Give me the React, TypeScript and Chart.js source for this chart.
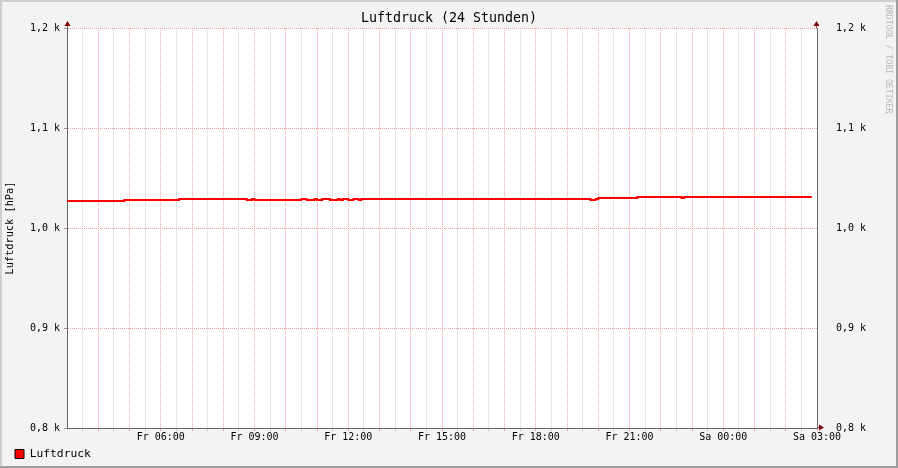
import { useEffect, useRef } from "react";
import { Chart, registerables } from "chart.js";

Chart.register(...registerables);

// minutes after Fr 03:00 where the reading changes, and the reading from there on
const stepMinutes = [
  0, 110, 215, 345, 355, 360, 450, 460, 475, 480, 490, 505, 520, 525, 530,
  540, 550, 560, 565, 1005, 1015, 1020, 1095, 1180, 1185, 1210, 1430,
];
const pressure = [
  1026, 1027, 1028, 1029, 1028, 1029, 1028, 1029, 1028, 1029, 1028, 1029,
  1028, 1029, 1028, 1029, 1028, 1029, 1028, 1029, 1028, 1029, 1030, 1031,
  1030, 1031, 1031,
];

const xTickMinutes = [180, 360, 540, 720, 900, 1080, 1260, 1440];
const xTickLabels = [
  "Fr 06:00",
  "Fr 09:00",
  "Fr 12:00",
  "Fr 15:00",
  "Fr 18:00",
  "Fr 21:00",
  "Sa 00:00",
  "Sa 03:00",
];
const yTickValues = [800, 900, 1000, 1100, 1200];
const yTickLabels = ["0,8 k", "0,9 k", "1,0 k", "1,1 k", "1,2 k"];

const watermark = "RRDTOOL / TOBI OETIKER";
const mono = "'DejaVu Sans Mono', monospace";
const gridRed = "#f2a0a0";
const gridGray = "#cccccc";
const axisColor = "#666666";
const arrowColor = "#7f0000";

const yLabel = (v: any) => {
  const i = yTickValues.indexOf(Number(v));
  return i >= 0 ? yTickLabels[i] : "";
};

const rrdFrame = {
  id: "rrdFrame",
  beforeDraw(chart: any) {
    const { ctx, width, height, chartArea: a } = chart;
    ctx.save();
    ctx.fillStyle = "#f3f3f3";
    ctx.fillRect(0, 0, width, height);
    ctx.fillStyle = "#cfcfcf";
    ctx.fillRect(0, 0, width, 2);
    ctx.fillRect(0, 0, 2, height);
    ctx.fillStyle = "#9e9e9e";
    ctx.fillRect(0, height - 2, width, 2);
    ctx.fillRect(width - 2, 0, 2, height);
    ctx.fillStyle = "#ffffff";
    ctx.fillRect(a.left, a.top, a.right - a.left, a.bottom - a.top);
    ctx.restore();
  },
  afterDraw(chart: any) {
    const { ctx, chartArea: a } = chart;
    ctx.save();
    ctx.strokeStyle = axisColor;
    ctx.lineWidth = 1;
    ctx.beginPath();
    ctx.moveTo(a.left + 0.5, a.top - 4);
    ctx.lineTo(a.left + 0.5, a.top);
    ctx.moveTo(a.right - 0.5, a.top - 4);
    ctx.lineTo(a.right - 0.5, a.top);
    ctx.moveTo(a.right, a.bottom - 0.5);
    ctx.lineTo(a.right + 4, a.bottom - 0.5);
    ctx.stroke();
    ctx.fillStyle = arrowColor;
    const up = (x: number) => {
      ctx.beginPath();
      ctx.moveTo(x - 3, a.top - 2);
      ctx.lineTo(x + 3, a.top - 2);
      ctx.lineTo(x, a.top - 7);
      ctx.closePath();
      ctx.fill();
    };
    up(a.left + 0.5);
    up(a.right - 0.5);
    ctx.beginPath();
    ctx.moveTo(a.right + 2, a.bottom - 3.5);
    ctx.lineTo(a.right + 2, a.bottom + 2.5);
    ctx.lineTo(a.right + 7, a.bottom - 0.5);
    ctx.closePath();
    ctx.fill();

    ctx.translate(888, 5);
    ctx.rotate(Math.PI / 2);
    ctx.fillStyle = "#b8b8b8";
    ctx.font = "8.2px " + mono;
    ctx.textAlign = "left";
    ctx.textBaseline = "middle";
    ctx.fillText(watermark, 0, 0);
    ctx.restore();
  },
};

const PressureChart = () => {
  const chartRef: any = useRef(null);
  useEffect(() => {
    const ctx = chartRef.current.getContext("2d");
    const points = stepMinutes.map((m, i) => ({ x: m, y: pressure[i] }));

    const theChart = new Chart(ctx, {
      type: "line",
      data: {
        datasets: [
          {
            label: "Luftdruck",
            data: points,
            stepped: "after",
            borderColor: "#ff0000",
            backgroundColor: "#ff0000",
            borderWidth: 2,
            pointRadius: 0,
            fill: false,
          },
        ],
      },
      options: {
        responsive: true,
        maintainAspectRatio: false,
        animation: false,
        layout: { padding: { top: 0, left: 14, right: 14, bottom: -1.65 } },
        plugins: {
          title: {
            display: true,
            text: "Luftdruck (24 Stunden)",
            color: "#000",
            font: { family: mono, size: 13.3, weight: "normal" },
            padding: { top: 11, bottom: 1.1 },
          },
          legend: {
            position: "bottom",
            align: "start",
            labels: {
              color: "#000",
              boxWidth: 9,
              boxHeight: 9,
              padding: 1,
              font: { family: mono, size: 11.3 },
              generateLabels: (chart: any) =>
                Chart.defaults.plugins.legend.labels
                  .generateLabels(chart)
                  .map((l: any) => ({ ...l, strokeStyle: "#000", lineWidth: 1 })),
            },
          },
          tooltip: { enabled: false },
        },
        scales: {
          x: {
            type: "linear",
            min: 0,
            max: 1440,
            afterFit: (scale: any) => {
              scale.height = 19.35;
            },
            ticks: {
              stepSize: 30,
              autoSkip: false,
              maxTicksLimit: 100,
              maxRotation: 0,
              padding: 0,
              color: "#000",
              font: { family: mono, size: 10 },
              callback: (v: any) => {
                const i = xTickMinutes.indexOf(Number(v));
                return i >= 0 ? xTickLabels[i] : "";
              },
            },
            grid: {
              tickLength: 3,
              color: (c: any) => {
                const v = c.tick ? c.tick.value : 0;
                if (v === 0) return "rgba(0,0,0,0)";
                return v % 60 === 0 ? gridRed : gridGray;
              },
            },
            border: { color: axisColor, width: 1, dash: [1, 1] },
          },
          y: {
            position: "left",
            min: 800,
            max: 1200,
            afterFit: (scale: any) => {
              scale.width = 53;
            },
            ticks: {
              stepSize: 100,
              padding: 4,
              color: "#000",
              font: { family: mono, size: 10 },
              callback: yLabel,
            },
            grid: { color: gridRed, tickLength: 3, tickColor: "#999" },
            border: { color: axisColor, width: 1, dash: [1, 1] },
            title: {
              display: true,
              text: "Luftdruck [hPa]",
              color: "#000",
              font: { family: mono, size: 10.3 },
              padding: { top: -10.2, bottom: 0 },
            },
          },
          y2: {
            position: "right",
            min: 800,
            max: 1200,
            afterFit: (scale: any) => {
              scale.width = 67;
            },
            ticks: {
              stepSize: 100,
              padding: 19,
              color: "#000",
              font: { family: mono, size: 10 },
              callback: yLabel,
            },
            grid: { drawOnChartArea: false, drawTicks: false },
            border: { color: axisColor, width: 1 },
          },
        },
      },
      plugins: [rrdFrame],
    } as any);

    return () => {
      theChart.destroy();
    };
  }, []);

  return (
    <div style={{ position: "fixed", left: 0, top: 0, width: 898, height: 468 }}>
      <canvas ref={chartRef} />
    </div>
  );
};

export default function App() {
  return <PressureChart />;
}
